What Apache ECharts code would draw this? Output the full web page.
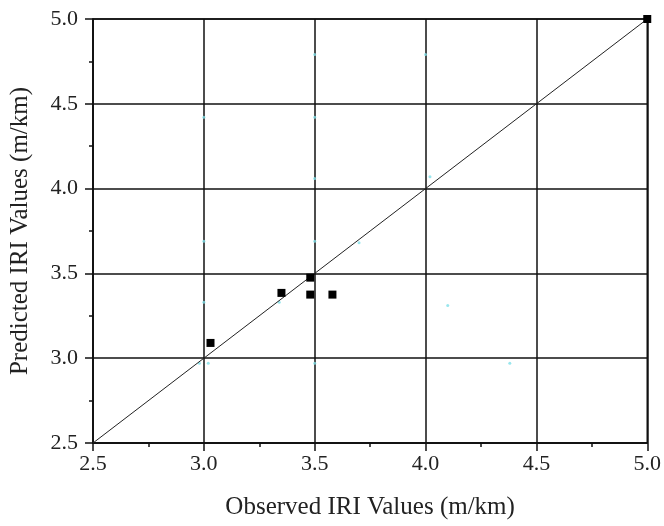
<!DOCTYPE html>
<html>
<head>
<meta charset="utf-8">
<script src="https://cdn.jsdelivr.net/npm/echarts@6/dist/echarts.min.js"></script>
<style>
  html, body { margin: 0; padding: 0; background: #fff; }
  #chart { width: 664px; height: 526px; }
</style>
</head>
<body>
<div id="chart"></div>
<script>
// Observed vs predicted IRI (m/km)
const observed  = [3.03, 3.35, 3.48, 3.48, 3.58, 5.00];
const predicted = [3.09, 3.385, 3.475, 3.375, 3.375, 5.00];

// faint residual marks scattered on the plot
const faintX = [3.0, 3.5, 4.0, 4.02, 3.0, 3.5, 3.7, 3.0, 2.98, 3.02, 3.34, 3.5, 4.38, 3.5, 3.5, 4.1];
const faintY = [4.42, 4.79, 4.79, 4.07, 3.69, 3.69, 3.68, 3.33, 2.97, 2.97, 3.33, 2.97, 2.97, 4.06, 4.42, 3.31];

// 1:1 reference line endpoints
const lineX = [2.5, 5.0];
const lineY = [2.5, 5.0];

const tickStep = 0.5;
const axisMin = 2.5, axisMax = 5.0;

const font = 'Liberation Serif';

const chart = echarts.init(document.getElementById('chart'), null, { renderer: 'canvas' });

function axisCommon(name, gap) {
  return {
    type: 'value',
    min: axisMin,
    max: axisMax,
    interval: tickStep,
    name: name,
    nameLocation: 'middle',
    nameGap: gap,
    nameTextStyle: { fontFamily: font, fontSize: 25, color: '#222' },
    axisLine: { show: true, lineStyle: { color: '#111', width: 1.5 } },
    axisTick: { show: true, inside: false, length: 8, lineStyle: { color: '#111', width: 1.5 } },
    minorTick: { show: true, splitNumber: 2, length: 4, lineStyle: { color: '#111', width: 1.5 } },
    axisLabel: {
      fontFamily: font, fontSize: 22, color: '#222',
      formatter: v => v.toFixed(1)
    },
    splitLine: { show: true, lineStyle: { color: '#111', width: 1.5 } }
  };
}

const xAxis = axisCommon('Observed IRI Values (m/km)', 52);
xAxis.axisLabel.margin = 10;
const yAxis = axisCommon('Predicted IRI Values (m/km)', 60);
yAxis.axisLabel.margin = 15;

chart.setOption({
  animation: false,
  backgroundColor: '#fff',
  grid: { left: 93, top: 19, right: 16, bottom: 83, show: true, borderColor: '#111', borderWidth: 1.5 },
  xAxis: xAxis,
  yAxis: yAxis,
  series: [
    {
      type: 'line',
      data: lineX.map((x, i) => [x, lineY[i]]),
      symbol: 'none',
      lineStyle: { color: '#222', width: 1 },
      z: 3
    },
    {
      type: 'scatter',
      data: faintX.map((x, i) => [x, faintY[i]]),
      symbol: 'circle',
      symbolSize: 3,
      itemStyle: { color: '#7fe0e8', opacity: 0.8 },
      z: 2
    },
    {
      type: 'scatter',
      data: observed.map((x, i) => [x, predicted[i]]),
      symbol: 'rect',
      symbolSize: 8,
      itemStyle: { color: '#000', opacity: 1 },
      z: 4
    }
  ]
});
</script>
</body>
</html>
